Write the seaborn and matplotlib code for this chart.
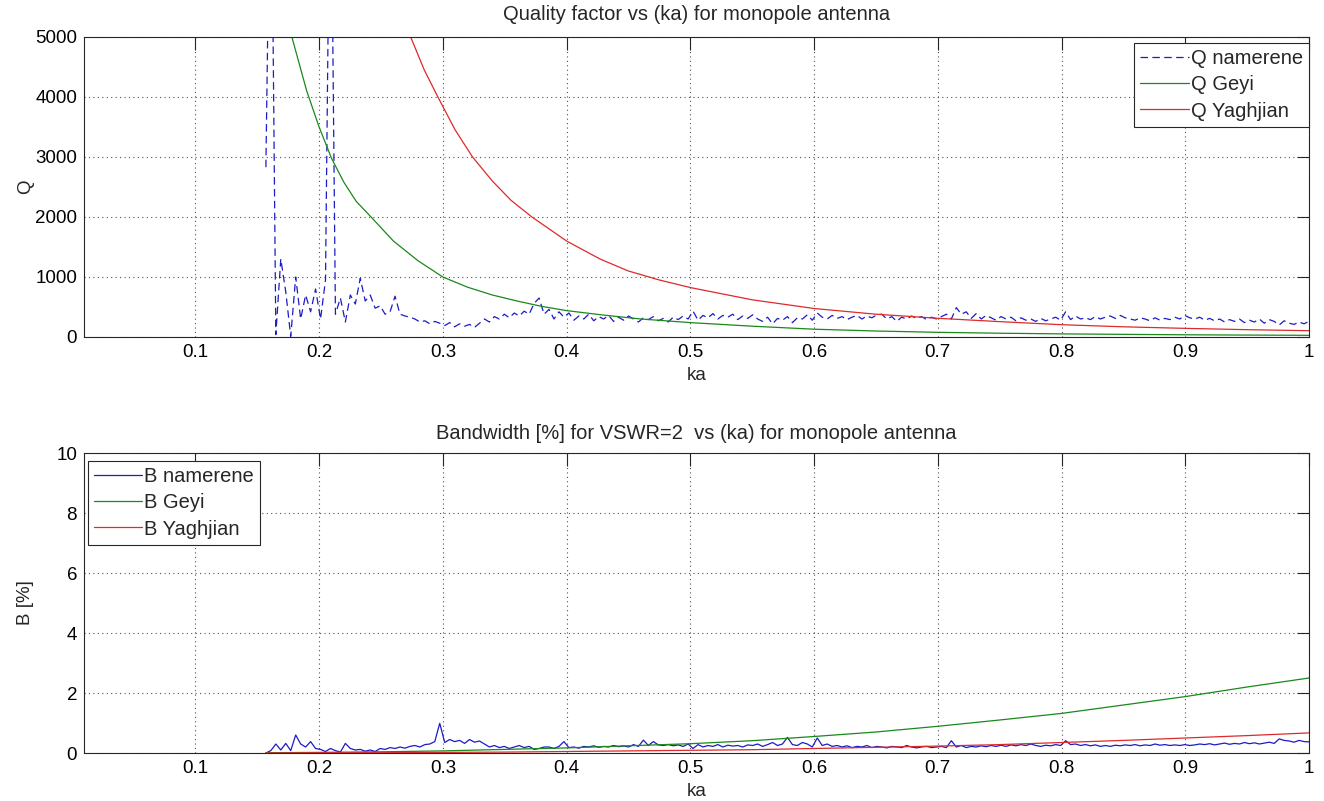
import numpy as np
import pandas as pd
import matplotlib
matplotlib.use("Agg")
import matplotlib.pyplot as plt
import seaborn as sns

# ---------------- data ----------------
# measured ("namerene") series, sampled on a uniform ka sweep from 0.157 to 1.0
ka_meas_start, ka_meas_end = 0.157, 1.0
q_namerene = [
    2830, 9000, 40, 1300, 750, 10, 1000, 300, 700, 420,
    800, 300, 950, 9000, 380, 650, 250, 700, 550, 980,
    600, 700, 480, 520, 380, 420, 680, 380, 350, 330,
    300, 250, 270, 220, 260, 230, 190, 240, 170, 220,
    180, 210, 160, 230, 300, 250, 340, 300, 380, 320,
    400, 350, 430, 380, 560, 650, 380, 460, 300, 420,
    330, 400, 280, 350, 300, 380, 270, 340, 300, 360,
    260, 330, 280, 350, 300, 250, 320, 290, 340, 270,
    310, 250, 330, 290, 350, 300, 430, 280, 360, 320,
    390, 300, 360, 330, 380, 290, 350, 310, 370, 300,
    260, 330, 220, 310, 280, 340, 240, 320, 300, 370,
    280, 400, 330, 300, 360, 310, 340, 290, 330, 360,
    300, 350, 320, 370, 380, 300, 340, 260, 330, 300,
    350, 310, 340, 290, 330, 300, 340, 380, 300, 490,
    380, 420, 310, 390, 300, 360, 320, 280, 340, 300,
    330, 270, 320, 280, 300, 260, 310, 270, 300, 330,
    280, 420, 290, 350, 300, 320, 290, 340, 300, 330,
    350, 310, 360, 320, 300, 280, 320, 300, 270, 320,
    280, 310, 290, 330, 300, 360, 320, 300, 330, 280,
    310, 270, 300, 250, 290, 260, 300, 240, 280, 250,
    300, 230, 290, 260, 200, 270, 230, 210, 250, 220, 260,
]
b_namerene = [
    0.0, 0.08, 0.3, 0.1, 0.32, 0.08, 0.6, 0.3, 0.2, 0.38,
    0.15, 0.12, 0.05, 0.15, 0.08, 0.03, 0.32, 0.15, 0.1, 0.12,
    0.06, 0.1, 0.05, 0.15, 0.12, 0.18, 0.15, 0.2, 0.16, 0.22,
    0.25, 0.2, 0.28, 0.3, 0.38, 0.99, 0.35, 0.45, 0.38, 0.42,
    0.32, 0.45, 0.36, 0.4, 0.3, 0.2, 0.25, 0.18, 0.22, 0.15,
    0.2, 0.25, 0.18, 0.22, 0.12, 0.15, 0.2, 0.2, 0.15, 0.22,
    0.38, 0.18, 0.2, 0.16, 0.22, 0.2, 0.24, 0.19, 0.22, 0.2,
    0.25, 0.21, 0.24, 0.2, 0.28, 0.22, 0.43, 0.25, 0.38, 0.27,
    0.25, 0.28, 0.24, 0.27, 0.22, 0.3, 0.15, 0.28, 0.2, 0.25,
    0.22, 0.28, 0.2, 0.26, 0.23, 0.25, 0.2, 0.27, 0.25, 0.3,
    0.22, 0.28, 0.35, 0.25, 0.3, 0.52, 0.28, 0.25, 0.35, 0.3,
    0.2, 0.5, 0.25, 0.3, 0.22, 0.25, 0.2, 0.24, 0.18, 0.22,
    0.2, 0.25, 0.18, 0.22, 0.2, 0.17, 0.22, 0.2, 0.18, 0.25,
    0.2, 0.17, 0.2, 0.22, 0.18, 0.2, 0.22, 0.18, 0.41, 0.2,
    0.25, 0.18, 0.22, 0.2, 0.24, 0.21, 0.25, 0.22, 0.26, 0.22,
    0.27, 0.24, 0.28, 0.25, 0.3, 0.25, 0.22, 0.26, 0.24, 0.28,
    0.25, 0.41, 0.28, 0.3, 0.25, 0.28, 0.24, 0.27, 0.22, 0.25,
    0.22, 0.26, 0.24, 0.27, 0.25, 0.28, 0.24, 0.27, 0.25, 0.3,
    0.26, 0.28, 0.25, 0.27, 0.25, 0.28, 0.25, 0.27, 0.3, 0.28,
    0.31, 0.27, 0.3, 0.33, 0.29, 0.32, 0.3, 0.35, 0.31, 0.34,
    0.3, 0.33, 0.36, 0.32, 0.47, 0.42, 0.4, 0.36, 0.42, 0.38, 0.37,
]

# theoretical curves
geyi_ka = [0.157, 0.165, 0.172, 0.178, 0.19, 0.20, 0.21, 0.22, 0.23, 0.242, 0.26, 0.28,
           0.30, 0.32, 0.34, 0.36, 0.38, 0.40, 0.43, 0.46, 0.50, 0.55, 0.60, 0.65,
           0.70, 0.75, 0.80, 0.85, 0.90, 0.95, 1.00]
geyi_q = [7400, 6300, 5500, 5000, 4100, 3500, 2980, 2580, 2260, 2000, 1600, 1270,
          1000, 830, 700, 600, 510, 440, 365, 300, 240, 180, 130, 100,
          78, 63, 52, 44, 37, 32, 28]

yag_ka = [0.157, 0.20, 0.24, 0.274, 0.285, 0.296, 0.31, 0.324, 0.34, 0.355, 0.372, 0.40,
          0.427, 0.45, 0.475, 0.50, 0.55, 0.60, 0.65, 0.70, 0.75, 0.80, 0.85, 0.90,
          0.95, 1.00]
yag_q = [26000, 12800, 7400, 5000, 4450, 4000, 3450, 3000, 2600, 2280, 2000, 1600,
         1300, 1100, 950, 824, 620, 475, 380, 312, 256, 205, 170, 144, 122, 105]

b_ka = [0.157, 0.2, 0.25, 0.3, 0.35, 0.4, 0.45, 0.5, 0.55, 0.6, 0.65, 0.7, 0.75, 0.8,
        0.85, 0.9, 0.95, 1.0]
b_geyi = [0.01, 0.02, 0.04, 0.07, 0.12, 0.17, 0.24, 0.31, 0.41, 0.55, 0.7, 0.89, 1.1,
          1.32, 1.6, 1.88, 2.2, 2.5]
b_yag = [0.0, 0.01, 0.01, 0.02, 0.03, 0.05, 0.07, 0.09, 0.11, 0.15, 0.19, 0.23, 0.28,
         0.35, 0.42, 0.5, 0.58, 0.67]

x_ticks = [0.1, 0.2, 0.3, 0.4, 0.5, 0.6, 0.7, 0.8, 0.9, 1.0]
x_ticklabels = ["0.1", "0.2", "0.3", "0.4", "0.5", "0.6", "0.7", "0.8", "0.9", "1"]
q_ticks = [0, 1000, 2000, 3000, 4000, 5000]
b_ticks = [0, 2, 4, 6, 8, 10]

# ---------------- styling ----------------
sns.set_theme(style="white")
plt.rcParams["font.family"] = ["Liberation Sans", "DejaVu Sans"]

BLUE = "#1c1cc4"
GREEN = "#1a881a"
RED = "#dd2a2a"
AXC = "#262626"

fig = plt.figure(figsize=(13.24, 8.01), dpi=100)
W, H = 1324, 801
AX_L, AX_R = 84, 1309
ax1 = fig.add_axes([AX_L / W, 1 - 337 / H, (AX_R - AX_L) / W, 300 / H])
ax2 = fig.add_axes([AX_L / W, 1 - 753 / H, (AX_R - AX_L) / W, 300 / H])

ka_meas = np.linspace(ka_meas_start, ka_meas_end, len(q_namerene))
df_meas = pd.DataFrame({"ka": ka_meas, "Q": q_namerene, "B": b_namerene})
df_geyi = pd.DataFrame({"ka": geyi_ka, "Q": geyi_q})
df_yag = pd.DataFrame({"ka": yag_ka, "Q": yag_q})
df_b = pd.DataFrame({"ka": b_ka, "Bg": b_geyi, "By": b_yag})

lw = 0.9
sns.lineplot(data=df_meas, x="ka", y="Q", ax=ax1, color=BLUE, lw=lw,
             label="Q namerene", sort=False, estimator=None)
ax1.lines[-1].set_dashes((6, 3.5))
sns.lineplot(data=df_geyi, x="ka", y="Q", ax=ax1, color=GREEN, lw=lw,
             label="Q Geyi", sort=False, estimator=None)
sns.lineplot(data=df_yag, x="ka", y="Q", ax=ax1, color=RED, lw=lw,
             label="Q Yaghjian", sort=False, estimator=None)

sns.lineplot(data=df_meas, x="ka", y="B", ax=ax2, color=BLUE, lw=lw,
             label="B namerene", sort=False, estimator=None)
sns.lineplot(data=df_b, x="ka", y="Bg", ax=ax2, color=GREEN, lw=lw,
             label="B Geyi", sort=False, estimator=None)
sns.lineplot(data=df_b, x="ka", y="By", ax=ax2, color=RED, lw=lw,
             label="B Yaghjian", sort=False, estimator=None)

fs_tick = 13.5
fs_lab = 13.5
fs_title = 14.5
for ax, yt, ylim in ((ax1, q_ticks, (0, 5000)), (ax2, b_ticks, (0, 10))):
    ax.set_xlim(0.01, 1.0)
    ax.set_ylim(*ylim)
    ax.set_xticks(x_ticks)
    ax.set_xticklabels(x_ticklabels)
    ax.set_yticks(yt)
    ax.grid(True, linestyle=(0, (1, 3)), color="#505050", linewidth=0.8)
    ax.tick_params(direction="in", length=9, width=0.8, colors=AXC,
                   labelsize=fs_tick, top=True, right=True, labelcolor="black", pad=5)
    for s in ax.spines.values():
        s.set_color(AXC)
        s.set_linewidth(0.8)
        s.set_visible(True)
    ax.set_xlabel("ka", fontsize=fs_lab)
    ax.xaxis.set_label_coords(0.5, -0.1)
    ax.yaxis.set_label_coords(-0.041, 0.5)
    ax.set_facecolor("white")

ax1.set_ylabel("Q", fontsize=fs_lab)
ax2.set_ylabel("B [%]", fontsize=fs_lab)
ax1.set_title("Quality factor vs (ka) for monopole antenna", fontsize=fs_title, pad=12)
ax2.set_title("Bandwidth [%] for VSWR=2  vs (ka) for monopole antenna", fontsize=fs_title, pad=10)

leg_kw = dict(fontsize=14.5, frameon=True, fancybox=False, framealpha=1,
              edgecolor=AXC, handlelength=2.4, handletextpad=0.1,
              borderpad=0.3, labelspacing=0.36, borderaxespad=0.0)
l1 = ax1.legend(loc="upper right",
                bbox_to_anchor=((1309 - AX_L) / (AX_R - AX_L), 1 - (43 - 37) / 300), **leg_kw)
l2 = ax2.legend(loc="upper left",
                bbox_to_anchor=((88 - AX_L) / (AX_R - AX_L), 1 - (461 - 453) / 300), **leg_kw)
for l in (l1, l2):
    l.get_frame().set_linewidth(0.8)

fig.savefig("out.png", dpi=100, facecolor="white")
